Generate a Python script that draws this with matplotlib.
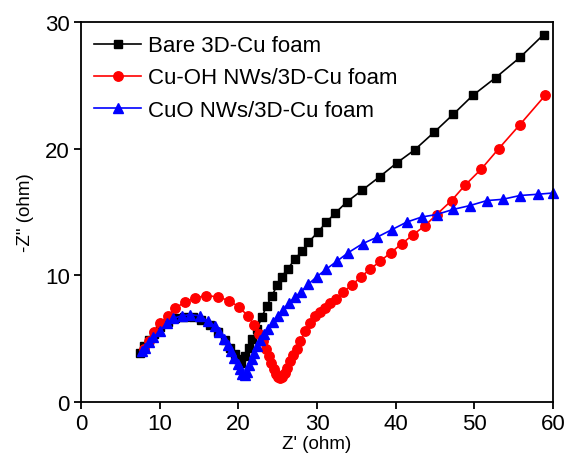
import numpy as np
import matplotlib
matplotlib.use("Agg")
import matplotlib.pyplot as plt

plt.rcParams['font.family'] = ['Liberation Sans', 'DejaVu Sans']

# Bare 3D-Cu foam
bare_x = [7.5, 8.0, 8.6, 9.3, 10.1, 11.0, 12.0, 13.1, 14.2, 15.3, 16.4, 17.4, 18.3, 19.0, 19.6, 20.0, 20.3,
          20.8, 21.3, 21.8, 22.4, 23.0, 23.6, 24.3, 24.9, 25.5, 26.3, 27.2, 28.1, 28.9, 30.1, 31.2, 32.3,
          33.8, 35.7, 38.0, 40.2, 42.4, 44.9, 47.3, 49.8, 52.7, 55.8, 58.8]
bare_y = [3.9, 4.4, 4.9, 5.4, 5.9, 6.3, 6.6, 6.7, 6.7, 6.5, 6.1, 5.5, 4.9, 4.3, 3.8, 3.4, 3.1,
          3.6, 4.3, 5.0, 5.8, 6.7, 7.6, 8.4, 9.2, 9.9, 10.5, 11.3, 11.9, 12.6, 13.4, 14.2, 14.9,
          15.8, 16.7, 17.8, 18.9, 19.9, 21.3, 22.7, 24.2, 25.6, 27.2, 29.0]

# Cu-OH NWs/3D-Cu foam
cuoh_x = [8.0, 8.6, 9.3, 10.1, 11.0, 12.0, 13.2, 14.5, 15.9, 17.4, 18.8, 20.1, 21.2, 22.0, 22.6, 23.1,
          23.5, 23.9, 24.2, 24.5, 24.8, 25.0, 25.3, 25.6, 25.9, 26.2, 26.6, 27.0, 27.4, 27.9, 28.5, 29.1,
          29.8, 30.4, 31.0, 31.7, 32.4, 33.3, 34.4, 35.6, 36.8, 38.0, 39.4, 40.8, 42.2, 43.7, 45.2,
          47.1, 48.8, 50.9, 53.1, 55.8, 59.0]
cuoh_y = [4.2, 4.8, 5.5, 6.2, 6.8, 7.4, 7.9, 8.2, 8.4, 8.3, 8.0, 7.5, 6.8, 6.1, 5.4, 4.8,
          4.2, 3.6, 3.1, 2.6, 2.2, 1.95, 1.9, 2.0, 2.3, 2.7, 3.2, 3.7, 4.2, 4.8, 5.6, 6.2,
          6.8, 7.1, 7.4, 7.8, 8.1, 8.7, 9.2, 9.9, 10.5, 11.1, 11.8, 12.5, 13.2, 13.9, 14.8,
          15.9, 17.1, 18.4, 20.0, 21.9, 24.2]

# CuO NWs/3D-Cu foam
cuo_x = [7.7, 8.1, 8.6, 9.2, 10.0, 10.9, 11.7, 12.8, 13.9, 15.1, 16.1, 17.0, 17.6, 18.2, 18.7, 19.1,
         19.5, 19.9, 20.2, 20.5, 20.8, 21.1, 21.4, 21.7, 22.0, 22.4, 22.8, 23.3, 23.8, 24.4, 25.0,
         25.7, 26.4, 27.2, 28.0, 28.9, 30.0, 31.2, 32.5, 34.0, 35.8, 37.6, 39.5, 41.4, 43.3, 45.2,
         47.3, 49.4, 51.6, 53.6, 55.8, 58.1, 60.0]
cuo_y = [4.0, 4.3, 4.7, 5.1, 5.6, 6.2, 6.6, 6.8, 6.9, 6.8, 6.4, 6.0, 5.5, 5.0, 4.5, 4.0,
         3.5, 3.0, 2.6, 2.2, 2.1, 2.4, 2.9, 3.4, 3.9, 4.4, 4.9, 5.4, 5.8, 6.3, 6.8,
         7.3, 7.8, 8.3, 8.7, 9.3, 9.9, 10.5, 11.1, 11.8, 12.5, 13.0, 13.6, 14.2, 14.6, 14.8,
         15.2, 15.5, 15.9, 16.0, 16.3, 16.4, 16.5]

fig = plt.figure(figsize=(5.68, 4.64), dpi=100)
ax = fig.add_axes([0.1426, 0.1315, 0.831, 0.819])

ax.plot(bare_x, bare_y, '-s', color='black', ms=6.3, lw=1.2, label='Bare 3D-Cu foam', clip_on=False)
ax.plot(cuoh_x, cuoh_y, '-o', color='red', ms=6.8, lw=1.2, label='Cu-OH NWs/3D-Cu foam', clip_on=False)
ax.plot(cuo_x, cuo_y, '-^', color='blue', ms=6.8, lw=1.2, label='CuO NWs/3D-Cu foam', clip_on=False)

ax.set_xlim(0, 60)
ax.set_ylim(0, 30)
ax.set_xticks([0, 10, 20, 30, 40, 50, 60])
ax.set_yticks([0, 10, 20, 30])
ax.tick_params(direction='out', length=5, width=1.3, labelsize=16, pad=3, top=False, right=False)
for s in ax.spines.values():
    s.set_linewidth(1.3)

ax.set_xlabel("Z' (ohm)", fontsize=13.5, labelpad=1)
ax.set_ylabel('-Z" (ohm)', fontsize=13.5, labelpad=8)

ax.legend(loc='upper left', frameon=False, fontsize=16, handlelength=2.1, handletextpad=0.3,
          labelspacing=0.5, borderaxespad=0.3, borderpad=0.3)

fig.savefig('out.png', dpi=100)
